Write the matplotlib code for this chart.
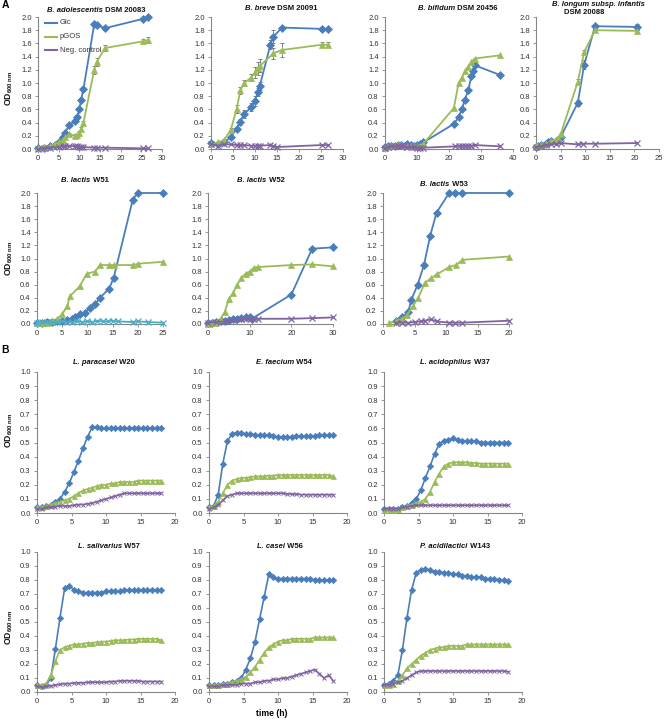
import matplotlib
matplotlib.use('Agg')
import matplotlib.pyplot as plt
from matplotlib.lines import Line2D

plt.rcParams['font.family'] = ['Liberation Sans', 'DejaVu Sans']
plt.rcParams['mathtext.fontset'] = 'custom'
plt.rcParams['mathtext.rm'] = 'Liberation Sans'
plt.rcParams['mathtext.bf'] = 'Liberation Sans:bold'
plt.rcParams['mathtext.it'] = 'Liberation Sans:italic'

W, H = 666, 722
fig = plt.figure(figsize=(W / 100, H / 100), dpi=100)

BLUE = '#4A7EBB'
GREEN = '#9BBB59'
PURPLE = '#8064A2'
LBLUE = '#4BACC6'
AXC = '#868686'

# ---------------- Panel A data ----------------
# B. adolescentis DSM 20083
ado_glc_t = [0, 1.5, 3, 4, 5, 6, 6.5, 7.6, 9, 9.5, 10, 10.4, 11, 13.6, 14.2, 16.2, 25.3, 26.7]
ado_glc = [0.02, 0.02, 0.04, 0.06, 0.1, 0.18, 0.25, 0.36, 0.43, 0.49, 0.6, 0.74, 0.91, 1.89, 1.88, 1.83, 1.97, 2.0]
ado_glc_err = [0.01, 0.01, 0.01, 0.01, 0.01, 0.02, 0.02, 0.02, 0.02, 0.03, 0.03, 0.03, 0.03, 0.03, 0.03, 0.02, 0.02, 0.02]
ado_gos_t = [0, 1.5, 3, 4, 5, 6, 6.5, 7.6, 9, 9.5, 10, 10.4, 11, 13.6, 14.2, 16.2, 25.3, 26.7]
ado_gos = [0.02, 0.03, 0.05, 0.07, 0.1, 0.14, 0.18, 0.22, 0.2, 0.21, 0.24, 0.3, 0.4, 1.2, 1.32, 1.53, 1.63, 1.65]
ado_gos_err = [0.01, 0.01, 0.01, 0.01, 0.01, 0.02, 0.02, 0.02, 0.02, 0.02, 0.03, 0.03, 0.03, 0.06, 0.06, 0.04, 0.03, 0.04]
ado_neg_t = [0, 1.5, 3, 5, 6, 6.5, 7.6, 9, 9.5, 10, 10.4, 11, 13.6, 14.2, 16.2, 25.3, 26.7]
ado_neg = [0.0, 0.01, 0.02, 0.03, 0.04, 0.04, 0.05, 0.04, 0.04, 0.03, 0.03, 0.03, 0.02, 0.02, 0.02, 0.01, 0.01]

# B. breve DSM 20091
bre_glc_t = [0, 1.5, 3, 4.5, 5.8, 6.6, 7.5, 9.1, 10, 10.6, 11.1, 13.5, 14.2, 16.1, 25.2, 26.7]
bre_glc = [0.09, 0.07, 0.1, 0.18, 0.31, 0.41, 0.53, 0.63, 0.73, 0.86, 0.96, 1.58, 1.7, 1.84, 1.82, 1.82]
bre_glc_err = [0.01, 0.01, 0.01, 0.02, 0.03, 0.04, 0.06, 0.06, 0.08, 0.06, 0.06, 0.07, 0.1, 0.02, 0.03, 0.02]
bre_gos_t = [0, 1.6, 2.9, 4.5, 5.8, 6.7, 7.5, 9.1, 10, 10.6, 11.1, 14.2, 16.1, 25.2, 26.7]
bre_gos = [0.07, 0.1, 0.13, 0.29, 0.6, 0.89, 1.0, 1.08, 1.16, 1.22, 1.26, 1.45, 1.5, 1.58, 1.58]
bre_gos_err = [0.01, 0.01, 0.02, 0.03, 0.06, 0.05, 0.04, 0.05, 0.08, 0.1, 0.1, 0.08, 0.1, 0.04, 0.04]
bre_neg_t = [0, 1.5, 3, 4.5, 5.8, 6.7, 7.5, 9.1, 10, 10.6, 11.1, 13.5, 14.2, 15, 25.2, 26.7]
bre_neg = [0.07, 0.05, 0.07, 0.07, 0.06, 0.06, 0.06, 0.05, 0.05, 0.05, 0.05, 0.06, 0.04, 0.03, 0.06, 0.06]

# B. bifidum DSM 20456
bif_glc_t = [0, 1, 2, 3, 4, 5, 6, 7, 8, 9, 10, 11, 12, 21.5, 23, 24, 25, 26, 27, 27.5, 28, 36]
bif_glc = [0.03, 0.04, 0.05, 0.05, 0.06, 0.06, 0.05, 0.08, 0.06, 0.05, 0.06, 0.07, 0.1, 0.38, 0.48, 0.61, 0.75, 0.89, 1.1, 1.18, 1.27, 1.12]
bif_gos_t = [0, 1, 2, 3, 4, 5, 6, 7, 8, 9, 10, 11, 12, 21.5, 23, 24, 25, 26, 27, 28, 36]
bif_gos = [0.02, 0.04, 0.05, 0.06, 0.07, 0.06, 0.05, 0.05, 0.05, 0.04, 0.05, 0.05, 0.08, 0.62, 1.0, 1.08, 1.18, 1.25, 1.32, 1.37, 1.42]
bif_neg_t = [0, 1, 2, 3, 4, 5, 6, 7, 8, 9, 10, 11, 12, 22, 23, 24, 25, 26, 27, 28, 36]
bif_neg = [0.02, 0.03, 0.04, 0.05, 0.05, 0.04, 0.04, 0.03, 0.03, 0.03, 0.02, 0.02, 0.02, 0.04, 0.05, 0.05, 0.05, 0.05, 0.05, 0.06, 0.04]

# B. longum subsp. infantis DSM 20088
inf_glc_t = [0, 0.5, 1, 2, 2.5, 3, 4, 4.5, 5, 8.5, 9.8, 12, 20.5]
inf_glc = [0.03, 0.05, 0.06, 0.08, 0.1, 0.12, 0.12, 0.14, 0.18, 0.7, 1.28, 1.86, 1.85]
inf_glc_err = [0.01, 0.01, 0.01, 0.01, 0.01, 0.01, 0.01, 0.01, 0.02, 0.05, 0.07, 0.04, 0.04]
inf_gos_t = [0, 0.5, 1, 2, 3, 4, 4.5, 5, 8.5, 9.8, 12, 20.5]
inf_gos = [0.05, 0.06, 0.06, 0.08, 0.12, 0.14, 0.16, 0.22, 1.02, 1.47, 1.8, 1.79]
inf_gos_err = [0.01, 0.01, 0.01, 0.01, 0.01, 0.01, 0.01, 0.02, 0.04, 0.03, 0.02, 0.02]
inf_neg_t = [0, 1, 2, 3, 4, 5, 8.5, 9.5, 12, 20.5]
inf_neg = [0.03, 0.04, 0.06, 0.07, 0.08, 0.09, 0.07, 0.08, 0.08, 0.09]

# B. lactis W51
w51_glc_t = [0, 1, 2, 3, 4, 5, 6, 7, 7.5, 8.5, 9.5, 10.5, 11.5, 12.5, 14.3, 15.2, 19, 20, 25]
w51_glc = [0.02, 0.02, 0.03, 0.03, 0.04, 0.05, 0.06, 0.08, 0.1, 0.15, 0.17, 0.25, 0.3, 0.4, 0.54, 0.7, 1.9, 2.0, 2.0]
w51_gos_t = [0, 1, 2, 3, 4, 5, 6, 6.5, 8.5, 9.9, 11.5, 12.5, 14.2, 15.2, 19.1, 20, 25]
w51_gos = [0.01, 0.01, 0.02, 0.04, 0.08, 0.15, 0.27, 0.42, 0.58, 0.77, 0.8, 0.9, 0.9, 0.9, 0.9, 0.92, 0.95]
w51_neg_t = [0, 1, 2, 3, 4, 5, 6, 7, 8, 9, 10, 11, 12, 13, 14, 15, 16, 19, 20, 22, 25]
w51_neg = [0.02, 0.03, 0.03, 0.03, 0.03, 0.04, 0.03, 0.03, 0.04, 0.03, 0.04, 0.03, 0.05, 0.04, 0.04, 0.05, 0.04, 0.03, 0.04, 0.03, 0.02]

# B. lactis W52
w52_glc_t = [0, 1, 2, 3, 4, 5, 6, 7, 8, 9, 10, 10.5, 20, 25, 30]
w52_glc = [0.01, 0.02, 0.03, 0.04, 0.05, 0.06, 0.07, 0.08, 0.09, 0.1, 0.1, 0.08, 0.45, 1.15, 1.17]
w52_gos_t = [0, 1, 2, 3, 4, 5, 6, 7, 8, 9, 10, 11, 12, 20, 25, 30]
w52_gos = [0.0, 0.01, 0.02, 0.08, 0.18, 0.38, 0.47, 0.6, 0.7, 0.77, 0.8, 0.86, 0.87, 0.9, 0.91, 0.88]
w52_neg_t = [0, 2, 4, 6, 8, 9, 10, 11, 12, 20, 25, 30]
w52_neg = [0.02, 0.03, 0.04, 0.06, 0.07, 0.08, 0.08, 0.08, 0.08, 0.08, 0.09, 0.1]

# B. lactis W53
w53_glc_t = [2, 3, 4, 4.5, 5.5, 6.5, 7.5, 8.5, 10.5, 11.5, 12.5, 20]
w53_glc = [0.05, 0.1, 0.18, 0.37, 0.6, 0.9, 1.35, 1.7, 2.0, 2.0, 2.0, 2.0]
w53_gos_t = [1, 2, 3, 3.8, 4.7, 5.6, 6.6, 7.6, 8.6, 10.5, 11.6, 12.6, 20]
w53_gos = [0.02, 0.04, 0.08, 0.13, 0.27, 0.4, 0.62, 0.7, 0.76, 0.87, 0.9, 0.98, 1.03]
w53_neg_t = [2, 3, 4, 5, 6, 6.6, 7.6, 8.5, 10.5, 11.5, 12.5, 20]
w53_neg = [0.02, 0.02, 0.02, 0.03, 0.04, 0.05, 0.07, 0.04, 0.02, 0.02, 0.02, 0.05]

# ---------------- Panel B data (shared time grid, h) ----------------
tb = [0, 0.67, 1.33, 2, 2.67, 3.33, 4, 4.67, 5.33, 6, 6.67, 7.33, 8, 8.67,
      9.33, 10, 10.67, 11.33, 12, 12.67, 13.33, 14, 14.67, 15.33, 16, 16.67, 17.33, 18]

w20_glc = [0.04, 0.045, 0.05, 0.06, 0.08, 0.1, 0.15, 0.21, 0.29, 0.37, 0.46, 0.54, 0.61, 0.61,
           0.6, 0.6, 0.6, 0.6, 0.6, 0.6, 0.6, 0.6, 0.6, 0.6, 0.6, 0.6, 0.6, 0.6]
w20_gos = [0.04, 0.04, 0.05, 0.06, 0.07, 0.08, 0.09, 0.1, 0.12, 0.14, 0.16, 0.17, 0.18, 0.19,
           0.2, 0.2, 0.21, 0.21, 0.22, 0.22, 0.22, 0.22, 0.23, 0.23, 0.23, 0.23, 0.23, 0.23]
w20_neg = [0.03, 0.03, 0.04, 0.04, 0.045, 0.05, 0.05, 0.05, 0.055, 0.06, 0.06, 0.065, 0.07, 0.08,
           0.09, 0.1, 0.11, 0.12, 0.13, 0.14, 0.14, 0.14, 0.14, 0.14, 0.14, 0.14, 0.14, 0.14]

w54_glc = [0.04, 0.05, 0.13, 0.35, 0.51, 0.56, 0.57, 0.57, 0.56, 0.56, 0.555, 0.55, 0.55, 0.55,
           0.545, 0.54, 0.54, 0.54, 0.54, 0.545, 0.545, 0.545, 0.545, 0.545, 0.55, 0.55, 0.55, 0.55]
w54_gos = [0.04, 0.05, 0.08, 0.14, 0.2, 0.23, 0.24, 0.25, 0.25, 0.255, 0.26, 0.26, 0.26, 0.265,
           0.265, 0.27, 0.27, 0.27, 0.27, 0.27, 0.27, 0.27, 0.27, 0.27, 0.27, 0.27, 0.27, 0.26]
w54_neg = [0.03, 0.04, 0.06, 0.09, 0.12, 0.13, 0.14, 0.14, 0.14, 0.14, 0.14, 0.14, 0.14, 0.14,
           0.14, 0.14, 0.14, 0.135, 0.135, 0.135, 0.13, 0.13, 0.13, 0.13, 0.13, 0.13, 0.13, 0.13]

w37_glc = [0.03, 0.03, 0.03, 0.03, 0.04, 0.05, 0.07, 0.1, 0.16, 0.25, 0.33, 0.42, 0.49, 0.51,
           0.52, 0.53, 0.52, 0.51, 0.51, 0.51, 0.51, 0.5, 0.5, 0.5, 0.5, 0.5, 0.5, 0.5]
w37_gos = [0.02, 0.02, 0.02, 0.03, 0.04, 0.05, 0.06, 0.07, 0.08, 0.1, 0.15, 0.22, 0.28, 0.33,
           0.35, 0.36, 0.36, 0.36, 0.36, 0.355, 0.355, 0.35, 0.35, 0.35, 0.35, 0.35, 0.35, 0.35]
w37_neg = [0.03, 0.03, 0.03, 0.03, 0.04, 0.045, 0.05, 0.055, 0.055, 0.055, 0.055, 0.055, 0.055, 0.055,
           0.055, 0.055, 0.055, 0.055, 0.055, 0.055, 0.055, 0.055, 0.055, 0.055, 0.055, 0.055, 0.055, 0.055]

w57_glc = [0.05, 0.04, 0.05, 0.1, 0.31, 0.53, 0.74, 0.76, 0.73, 0.72, 0.71, 0.71, 0.71, 0.71,
           0.71, 0.72, 0.72, 0.72, 0.72, 0.73, 0.73, 0.73, 0.73, 0.73, 0.73, 0.73, 0.73, 0.73]
w57_gos = [0.05, 0.05, 0.06, 0.12, 0.22, 0.3, 0.32, 0.33, 0.34, 0.34, 0.345, 0.35, 0.35, 0.355,
           0.36, 0.36, 0.365, 0.37, 0.37, 0.37, 0.375, 0.375, 0.38, 0.38, 0.38, 0.38, 0.38, 0.37]
w57_neg = [0.04, 0.035, 0.04, 0.045, 0.05, 0.055, 0.06, 0.06, 0.065, 0.065, 0.065, 0.07, 0.07, 0.07,
           0.07, 0.07, 0.075, 0.075, 0.08, 0.08, 0.08, 0.08, 0.08, 0.075, 0.075, 0.075, 0.075, 0.075]

w56_glc = [0.05, 0.05, 0.05, 0.06, 0.06, 0.07, 0.08, 0.1, 0.16, 0.24, 0.36, 0.52, 0.68, 0.84,
           0.82, 0.81, 0.81, 0.81, 0.81, 0.81, 0.81, 0.81, 0.81, 0.8, 0.8, 0.8, 0.8, 0.8]
w56_gos = [0.05, 0.05, 0.05, 0.06, 0.06, 0.07, 0.08, 0.09, 0.11, 0.14, 0.18, 0.23, 0.28, 0.32,
           0.34, 0.36, 0.37, 0.37, 0.38, 0.38, 0.38, 0.38, 0.38, 0.39, 0.39, 0.39, 0.39, 0.39]
w56_neg = [0.04, 0.04, 0.04, 0.05, 0.05, 0.05, 0.05, 0.06, 0.06, 0.06, 0.07, 0.07, 0.08, 0.08,
           0.09, 0.09, 0.1, 0.1, 0.11, 0.12, 0.13, 0.14, 0.15, 0.16, 0.13, 0.1, 0.12, 0.08]

w143_glc = [0.05, 0.06, 0.08, 0.12, 0.3, 0.53, 0.73, 0.85, 0.87, 0.88, 0.87, 0.86, 0.86, 0.85,
            0.85, 0.84, 0.84, 0.83, 0.83, 0.82, 0.82, 0.82, 0.81, 0.81, 0.81, 0.8, 0.8, 0.79]
w143_gos = [0.05, 0.05, 0.06, 0.08, 0.12, 0.17, 0.2, 0.23, 0.26, 0.28, 0.3, 0.31, 0.32, 0.32,
            0.33, 0.33, 0.33, 0.33, 0.34, 0.34, 0.34, 0.34, 0.34, 0.34, 0.34, 0.34, 0.34, 0.34]
w143_neg = [0.05, 0.05, 0.06, 0.07, 0.08, 0.1, 0.12, 0.14, 0.15, 0.15, 0.15, 0.15, 0.15, 0.15,
            0.15, 0.15, 0.15, 0.15, 0.15, 0.15, 0.15, 0.15, 0.15, 0.15, 0.15, 0.15, 0.15, 0.145]

# ---------------- helpers ----------------
renderer = fig.canvas.get_renderer()
FS_TICK = 5.5
FS_TITLE = 5.5


def make_ax(x0, x1, ytop, ybot, xmax, xstep, ymax, ystep):
    ax = fig.add_axes([x0 / W, 1 - ybot / H, (x1 - x0) / W, (ybot - ytop) / H])
    ax.set_xlim(0, xmax)
    ax.set_ylim(0, ymax)
    xt = list(range(0, xmax + 1, xstep))
    ax.set_xticks(xt)
    ax.set_xticklabels([str(v) for v in xt])
    n = int(round(ymax / ystep))
    yt = [i * ystep for i in range(n + 1)]
    ax.set_yticks(yt)
    ax.set_yticklabels(['%.1f' % v for v in yt])
    for s in ('top', 'right'):
        ax.spines[s].set_visible(False)
    for s in ('left', 'bottom'):
        ax.spines[s].set_color(AXC)
        ax.spines[s].set_linewidth(0.8)
    ax.tick_params(direction='out', length=2.5, width=0.6, color=AXC,
                   labelsize=FS_TICK, labelcolor='#333333', pad=2)
    ax.patch.set_alpha(0)
    return ax


def series(ax, t, y, color, kind, err=None, small=False):
    if kind == 'glc':
        mk, ms, mew = 'D', (3.2 if small else 3.6), 0.5
    elif kind == 'gos':
        mk, ms, mew = '^', (3.6 if small else 4.2), 0.5
    else:
        mk, ms, mew = 'x', (2.6 if small else 4.0), (0.7 if small else 0.9)
    lw = 1.2 if small else 1.3
    if err is not None:
        ax.errorbar(t, y, yerr=err, fmt='none', ecolor='#555555', elinewidth=0.5,
                    capsize=1.5, capthick=0.5, clip_on=False, zorder=2)
    ax.plot(t, y, color=color, lw=lw, marker=mk, ms=ms, mew=mew, mec=color,
            mfc=color, clip_on=False, zorder=3)


def title(xc, yc, parts, fs=FS_TITLE):
    texts, widths = [], []
    for s, st in parts:
        tt = fig.text(0, 0, s, fontsize=fs, fontweight='bold', fontstyle=st,
                      va='center', ha='left', color='#111111')
        bb = tt.get_window_extent(renderer)
        texts.append(tt)
        widths.append(bb.width)
    x = xc - sum(widths) / 2
    for tt, w in zip(texts, widths):
        tt.set_position((x / W, 1 - yc / H))
        x += w


def ylab(x, yc):
    fig.text(x / W, 1 - yc / H, r'$\mathbf{OD}_{\mathbf{600\ nm}}$', rotation=90,
             fontsize=6.2, ha='center', va='center', color='#111111')


# ---------------- Row A1 ----------------
ax = make_ax(38, 162, 17, 149, 30, 5, 2.0, 0.2)
series(ax, ado_glc_t, ado_glc, BLUE, 'glc', ado_glc_err)
series(ax, ado_gos_t, ado_gos, GREEN, 'gos', ado_gos_err)
series(ax, ado_neg_t, ado_neg, PURPLE, 'neg')
title(96, 10, [('B. adolescentis', 'italic'), (' DSM 20083', 'normal')])

ax = make_ax(211, 343, 17, 149, 30, 5, 2.0, 0.2)
series(ax, bre_glc_t, bre_glc, BLUE, 'glc', bre_glc_err)
series(ax, bre_gos_t, bre_gos, GREEN, 'gos', bre_gos_err)
series(ax, bre_neg_t, bre_neg, PURPLE, 'neg')
title(281, 9, [('B. breve', 'italic'), (' DSM 20091', 'normal')])

ax = make_ax(385, 513, 17, 149, 40, 10, 2.0, 0.2)
series(ax, bif_glc_t, bif_glc, BLUE, 'glc')
series(ax, bif_gos_t, bif_gos, GREEN, 'gos')
series(ax, bif_neg_t, bif_neg, PURPLE, 'neg')
title(458, 9, [('B. bifidum', 'italic'), (' DSM 20456', 'normal')])

ax = make_ax(536, 659, 17, 149, 25, 5, 2.0, 0.2)
series(ax, inf_glc_t, inf_glc, BLUE, 'glc', inf_glc_err)
series(ax, inf_gos_t, inf_gos, GREEN, 'gos', inf_gos_err)
series(ax, inf_neg_t, inf_neg, PURPLE, 'neg')
title(598, 4.5, [('B. longum subsp. infantis', 'italic')])
title(584, 12.5, [('DSM 20088', 'normal')])

# legend (panel 1)
for yy, col, lab in [(23, BLUE, 'Glc'), (37, GREEN, 'pGOS'), (50, PURPLE, 'Neg. control')]:
    fig.add_artist(Line2D([45 / W, 57 / W], [1 - yy / H, 1 - yy / H], color=col, lw=1.5))
    fig.text(60 / W, 1 - yy / H, lab, fontsize=FS_TICK, va='center', ha='left', color='#333333')

# ---------------- Row A2 ----------------
ax = make_ax(37, 163, 193, 324, 25, 5, 2.0, 0.2)
series(ax, w51_glc_t, w51_glc, BLUE, 'glc')
series(ax, w51_gos_t, w51_gos, GREEN, 'gos')
series(ax, w51_neg_t, w51_neg, LBLUE, 'neg')
title(85, 181, [('B. lactis', 'italic'), (' W51', 'normal')])

ax = make_ax(208, 333, 193, 324, 30, 10, 2.0, 0.2)
series(ax, w52_glc_t, w52_glc, BLUE, 'glc')
series(ax, w52_gos_t, w52_gos, GREEN, 'gos')
series(ax, w52_neg_t, w52_neg, PURPLE, 'neg')
title(261, 181, [('B. lactis', 'italic'), (' W52', 'normal')])

ax = make_ax(383, 509, 193, 324, 20, 5, 2.0, 0.2)
series(ax, w53_glc_t, w53_glc, BLUE, 'glc')
series(ax, w53_gos_t, w53_gos, GREEN, 'gos')
series(ax, w53_neg_t, w53_neg, PURPLE, 'neg')
title(444, 184, [('B. lactis', 'italic'), (' W53', 'normal')])

# ---------------- Row B1 ----------------
bx = [(37, 175), (209, 347), (384, 522)]
for (x0, x1), (g, p, n), (nm, st, xc) in zip(
        bx,
        [(w20_glc, w20_gos, w20_neg), (w54_glc, w54_gos, w54_neg), (w37_glc, w37_gos, w37_neg)],
        [('L. paracasei', ' W20', 104), ('E. faecium', ' W54', 284), ('L. acidophilus', ' W37', 455)]):
    ax = make_ax(x0, x1, 372, 513, 20, 5, 1.0, 0.1)
    series(ax, tb, g, BLUE, 'glc', small=True)
    series(ax, tb, p, GREEN, 'gos', small=True)
    series(ax, tb, n, PURPLE, 'neg', small=True)
    title(xc, 363, [(nm, 'italic'), (st, 'normal')])

# ---------------- Row B2 ----------------
for (x0, x1), (g, p, n), (nm, st, xc) in zip(
        bx,
        [(w57_glc, w57_gos, w57_neg), (w56_glc, w56_gos, w56_neg), (w143_glc, w143_gos, w143_neg)],
        [('L. salivarius', ' W57', 109), ('L. casei', ' W56', 280), ('P. acidilactici', ' W143', 455)]):
    ax = make_ax(x0, x1, 552, 692, 20, 5, 1.0, 0.1)
    series(ax, tb, g, BLUE, 'glc', small=True)
    series(ax, tb, p, GREEN, 'gos', small=True)
    series(ax, tb, n, PURPLE, 'neg', small=True)
    title(xc, 547, [(nm, 'italic'), (st, 'normal')])

# ---------------- labels ----------------
ylab(9, 88)
ylab(9, 258)
ylab(9, 430)
ylab(9, 627)
fig.text(5 / W, 1 - 5 / H, 'A', fontsize=7.5, fontweight='bold', ha='center', va='center')
fig.text(5 / W, 1 - 350 / H, 'B', fontsize=7.5, fontweight='bold', ha='center', va='center')
fig.text(272 / W, 1 - 713 / H, 'time (h)', fontsize=6.2, fontweight='bold', ha='center', va='center')

fig.savefig('out.png', dpi=100)
